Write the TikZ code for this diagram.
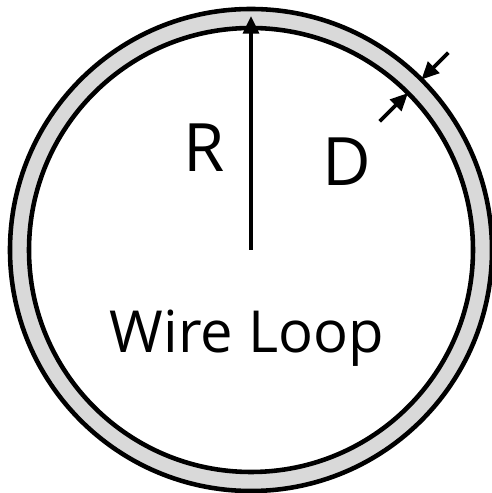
\documentclass[tikz,border=0pt]{standalone}
\usepackage{fontspec}
\setsansfont{Open Sans}
\usetikzlibrary{arrows.meta}

\tikzset{
  wire/.style={line width=2.6pt},
  dimarrow/.style={line width=2.1pt,-{Triangle[length=10pt,width=9pt]}},
  lbl/.style={font=\sffamily\fontsize{38}{40}\selectfont,inner sep=0pt}
}

\begin{document}
\begin{tikzpicture}[x=0.02cm,y=0.02cm]
  \useasboundingbox (-251,250) rectangle (241,-243);
  % the loop
  \fill[black!15,even odd rule] (0,0) circle (241) (0,0) circle (222);
  \draw[wire] (0,0) circle (241);
  \draw[wire] (0,0) circle (222);
  % radius
  \coordinate (c) at (0,0);
  \coordinate (rtip) at (90:234);
  \draw[dimarrow] (c) -- (rtip);
  % thickness
  \coordinate (din0) at (45:182);
  \coordinate (din1) at (45:222);
  \coordinate (dout0) at (45:279);
  \coordinate (dout1) at (45:241);
  \draw[dimarrow] (din0) -- (din1);
  \draw[dimarrow] (dout0) -- (dout1);
  % labels
  \node[lbl] (lblR) at (-47,102) {R};
  \node[lbl] (lblD) at (96,88) {D};
  \node[lbl,font=\sffamily\fontsize{33}{36}\selectfont] (lblLoop) at (-4,-88) {Wire Loop};
\end{tikzpicture}
\end{document}
